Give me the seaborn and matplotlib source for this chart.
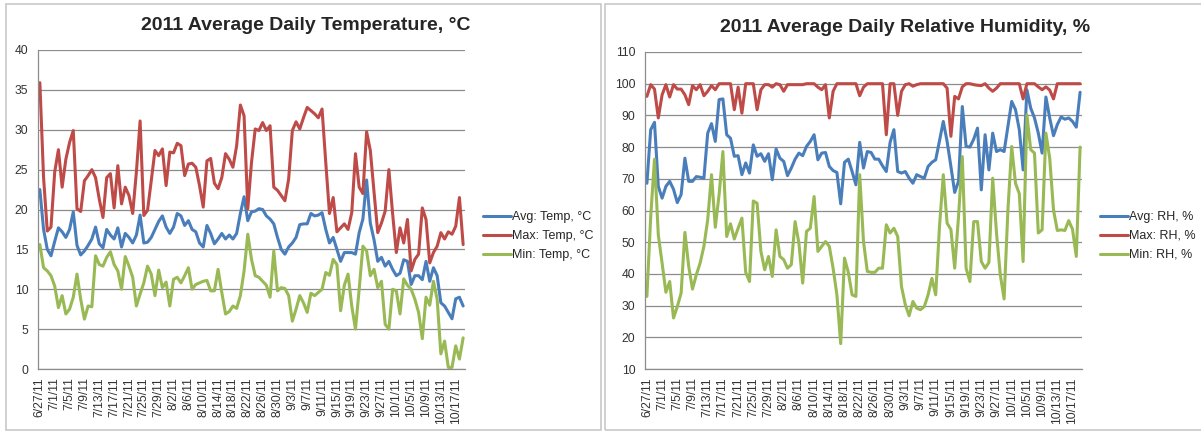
import pandas as pd
import numpy as np
import matplotlib
matplotlib.use('Agg')
import matplotlib.pyplot as plt
import matplotlib.patches as mpatches
import seaborn as sns

# daily values, 6/27/11 .. 10/19/11
dates = pd.date_range('2011-06-27', '2011-10-19', freq='D')

avg_temp = [22.5, 17.5, 15.0, 14.2, 16.0, 17.7, 17.2, 16.5, 17.5, 19.7,
            15.5, 14.3, 14.8, 15.5, 16.3, 17.8, 15.7, 15.2, 17.5, 16.8,
            16.3, 17.7, 15.3, 17.0, 16.5, 15.8, 16.8, 19.3, 15.8, 15.9,
            16.5, 17.5, 18.5, 19.2, 17.8, 17.0, 17.8, 19.5, 19.2, 18.0,
            18.6, 17.5, 17.2, 15.8, 15.3, 18.0, 17.0, 15.7, 16.3, 17.0,
            16.3, 16.8, 16.3, 17.0, 19.5, 21.6, 18.6, 19.7, 19.8, 20.1,
            20.0, 19.2, 18.8, 18.2, 16.5, 15.0, 14.4, 15.3, 15.8, 16.5,
            18.1, 18.2, 18.2, 19.5, 19.2, 19.3, 19.6, 17.5, 15.8, 16.5,
            15.0, 13.5, 14.6, 14.6, 14.6, 14.4, 17.1, 18.8, 23.7, 18.3,
            16.2, 13.5, 14.0, 12.9, 13.5, 12.5, 11.7, 12.0, 13.7, 13.5,
            10.6, 11.7, 11.7, 11.2, 13.5, 11.0, 12.7, 11.7, 8.3, 7.9,
            7.1, 6.3, 8.8, 9.0, 7.9]
max_temp = [35.9, 24.0, 17.3, 17.8, 24.7, 27.5, 22.8, 26.3, 28.4, 29.9,
            20.1, 19.75, 23.6, 24.25, 25.0, 24.0, 21.3, 19.0, 24.0, 24.5,
            20.2, 25.5, 20.7, 22.8, 21.75, 19.5, 24.7, 31.1, 19.25, 19.9,
            23.6, 27.4, 26.75, 27.6, 23.0, 27.2, 27.1, 28.3, 28.0, 24.25,
            25.7, 25.8, 25.3, 23.0, 20.3, 26.1, 26.4, 23.3, 22.6, 24.0,
            27.0, 26.3, 25.3, 28.0, 33.1, 31.75, 20.1, 25.9, 30.1, 29.9,
            30.9, 29.9, 30.5, 22.8, 22.4, 21.75, 21.1, 23.8, 29.9, 31.0,
            30.1, 31.5, 32.8, 32.4, 32.0, 31.5, 32.6, 25.9, 19.5, 21.5,
            17.2, 17.7, 18.2, 17.5, 19.6, 27.0, 22.8, 22.0, 29.75, 27.4,
            22.2, 17.1, 18.3, 19.8, 25.0, 19.5, 14.6, 17.7, 15.8, 18.75,
            12.3, 13.75, 14.4, 20.2, 18.75, 13.3, 14.6, 15.4, 17.1, 16.3,
            17.2, 16.9, 17.9, 21.5, 15.6]
min_temp = [15.6, 12.7, 12.3, 11.7, 10.4, 7.7, 9.2, 6.9, 7.5, 9.0,
            11.9, 8.75, 6.25, 7.9, 7.8, 14.2, 13.1, 12.9, 14.0, 14.7,
            13.1, 12.3, 10.0, 14.1, 12.9, 11.5, 7.9, 9.4, 10.8, 12.9,
            11.9, 9.2, 12.4, 10.2, 10.9, 7.9, 11.25, 11.5, 10.8, 11.7,
            12.7, 10.0, 10.6, 10.8, 11.0, 11.1, 9.8, 9.8, 12.5, 9.6,
            6.9, 7.2, 7.9, 7.6, 9.2, 12.3, 16.9, 13.75, 11.7, 11.5,
            11.0, 10.5, 9.0, 14.8, 9.8, 10.2, 10.1, 9.2, 6.0, 7.5,
            9.2, 8.3, 7.1, 9.5, 9.2, 9.6, 10.0, 12.1, 11.75, 13.75,
            13.1, 7.3, 10.5, 11.9, 7.9, 5.0, 10.0, 15.4, 14.8, 11.7,
            12.5, 10.2, 11.0, 5.6, 5.0, 10.0, 9.8, 6.9, 11.3, 10.5,
            10.0, 8.75, 7.1, 3.8, 9.0, 8.0, 11.0, 8.75, 1.9, 3.5,
            0.2, 0.2, 2.9, 1.25, 3.9]

avg_rh = [68.6, 85.5, 87.8, 67.6, 63.9, 67.6, 69.2, 66.7, 62.5, 65.0,
          76.5, 69.2, 69.2, 70.7, 70.5, 70.2, 84.4, 87.4, 81.8, 95.0,
          95.2, 83.9, 82.8, 77.1, 77.3, 71.3, 75.0, 71.8, 80.7, 77.1,
          77.9, 75.5, 77.9, 69.7, 79.4, 76.5, 75.5, 71.0, 73.4, 76.2,
          78.1, 77.3, 80.2, 81.8, 83.9, 76.0, 78.1, 78.3, 73.9, 72.6,
          72.0, 62.1, 75.2, 76.2, 72.3, 68.1, 81.5, 73.4, 78.6, 78.3,
          76.2, 76.2, 74.1, 72.3, 81.5, 85.5, 72.3, 71.8, 72.3, 70.2,
          68.6, 71.3, 70.7, 70.2, 73.9, 75.2, 76.0, 82.0, 88.1, 81.8,
          73.9, 65.7, 69.2, 92.8, 80.2, 80.0, 82.5, 86.0, 66.5, 83.9,
          72.8, 84.4, 78.6, 79.2, 78.6, 86.5, 94.4, 91.8, 85.5, 72.8,
          98.1, 92.3, 89.2, 84.4, 78.1, 95.8, 89.2, 83.6, 87.1, 89.5,
          88.8, 89.2, 88.1, 86.3, 97.3]
max_rh = [96.0, 99.7, 98.3, 89.2, 96.5, 99.7, 95.8, 99.7, 98.3, 98.3,
          96.5, 93.4, 99.4, 98.1, 99.7, 96.2, 97.6, 99.4, 98.1, 100,
          100, 100, 100, 91.8, 98.9, 90.7, 100, 100, 100, 91.8,
          98.1, 99.7, 99.7, 98.9, 100, 99.7, 97.6, 99.7, 99.7, 99.7,
          99.7, 99.7, 100, 100, 100, 98.9, 98.1, 99.7, 89.2, 97.6,
          100, 100, 100, 100, 100, 100, 96.2, 98.9, 100, 100,
          100, 100, 100, 83.9, 100, 100, 90.0, 97.6, 99.7, 100,
          99.2, 99.7, 100, 100, 100, 100, 100, 100, 100, 98.6,
          83.4, 96.0, 95.2, 99.0, 100, 100, 99.7, 99.5, 99.4, 100,
          98.6, 97.6, 98.6, 100, 100, 100, 100, 100, 100, 95.2,
          100, 100, 100, 99.0, 98.1, 99.0, 98.0, 95.2, 100, 100,
          100, 100, 100, 100, 100]
min_rh = [32.9, 58.0, 76.2, 52.3, 43.4, 34.2, 37.6, 26.1, 29.7, 33.9,
          53.1, 42.4, 35.2, 39.7, 43.4, 48.7, 57.1, 71.3, 54.7, 65.0,
          78.6, 51.8, 55.8, 51.0, 54.4, 57.6, 40.5, 37.6, 63.0, 62.3,
          47.1, 41.3, 45.5, 39.2, 53.9, 45.5, 44.5, 41.8, 42.9, 56.5,
          49.7, 37.1, 53.4, 54.4, 64.4, 47.1, 48.7, 50.2, 48.7, 41.8,
          33.4, 18.0, 45.0, 40.5, 33.4, 32.9, 71.3, 50.2, 40.8, 40.5,
          40.5, 41.8, 41.8, 55.5, 52.9, 54.4, 51.8, 36.0, 30.3, 26.8,
          31.3, 29.2, 28.7, 29.7, 33.4, 38.6, 33.4, 55.0, 71.3, 56.0,
          54.0, 41.8, 58.0, 77.0, 41.8, 37.6, 56.5, 56.5, 43.9, 41.8,
          43.6, 70.2, 52.9, 39.7, 32.1, 60.0, 80.2, 68.6, 65.3, 43.9,
          90.2, 79.2, 78.1, 52.9, 53.9, 84.4, 76.5, 60.2, 53.7, 53.9,
          53.7, 56.8, 54.1, 45.5, 80.0]

temp_labels = ['Avg: Temp, °C', 'Max: Temp, °C', 'Min: Temp, °C']
rh_labels = ['Avg: RH, %', 'Max: RH, %', 'Min: RH, %']
tick_labels = [f'{d.month}/{d.day}/{d.year % 100}' for d in dates[::4]]

colors = ['#4A7EBB', '#BE4B48', '#98B954']

sns.set_style('white')
plt.rcParams['font.family'] = ['Liberation Sans', 'DejaVu Sans']


def long_df(series, labels):
    frames = []
    for vals, lab in zip(series, labels):
        frames.append(pd.DataFrame({'date': dates, 'value': vals, 'series': lab}))
    return pd.concat(frames, ignore_index=True)


df_temp = long_df([avg_temp, max_temp, min_temp], temp_labels)
df_rh = long_df([avg_rh, max_rh, min_rh], rh_labels)

W, H = 1201, 432
fig = plt.figure(figsize=(W / 100, H / 100), dpi=100)

# chart area frames
for x0, x1 in [(6, 601), (605, 1210)]:
    fig.patches.append(mpatches.Rectangle((x0 / W, 2 / H), (x1 - x0) / W, (H - 6) / H,
                                          transform=fig.transFigure, fill=False,
                                          edgecolor='#c8c8c8', lw=1.2))

ax1 = fig.add_axes([38 / W, 1 - 369 / H, (465 - 38) / W, (369 - 50) / H])
ax2 = fig.add_axes([645 / W, 1 - 369 / H, (1082 - 645) / W, (369 - 52) / H])

panels = [
    (ax1, df_temp, temp_labels, (0, 40), np.arange(0, 41, 5), 483),
    (ax2, df_rh, rh_labels, (10, 110), np.arange(10, 111, 10), 1100),
]

half = pd.Timedelta(hours=12)
for ax, df, labels, ylim, yticks, leg_x in panels:
    sns.lineplot(data=df, x='date', y='value', hue='series', hue_order=labels,
                 palette=colors, linewidth=2.2, ax=ax, legend=False, sort=False)
    ax.set_xlim(dates[0] - half, dates[-1] + half)
    ax.set_ylim(*ylim)
    ax.set_yticks(yticks)
    ax.yaxis.grid(True, color='#8c8c8c', lw=0.9)
    ax.set_axisbelow(True)
    for s in ['top', 'right']:
        ax.spines[s].set_visible(False)
    for s in ['left', 'bottom']:
        ax.spines[s].set_color('#8c8c8c')
        ax.spines[s].set_linewidth(0.9)
    ax.set_xlabel('')
    ax.set_ylabel('')
    ax.set_xticks(dates[::4])
    ax.set_xticklabels(tick_labels, rotation=90)
    ax.set_xticks(list(dates[::4] - half) + [dates[-1] + half], minor=True)
    ax.tick_params(axis='x', which='major', length=0, pad=6, labelsize=8.7,
                   labelcolor='#333333')
    ax.tick_params(axis='x', which='minor', length=4, color='#8c8c8c', width=0.9)
    ax.tick_params(axis='y', length=4, color='#8c8c8c', width=0.9, pad=3,
                   labelsize=8.7, labelcolor='#333333')
    handles = [plt.Line2D([], [], color=c, lw=2.2) for c in colors]
    ax.legend(handles, labels, loc='center left',
              bbox_to_anchor=(leg_x / W, 1 - 236 / H), bbox_transform=fig.transFigure,
              frameon=False, fontsize=9, handlelength=2.2, handletextpad=0.1,
              labelspacing=0.55, borderpad=0, borderaxespad=0)

fig.text(306 / W, 1 - 26 / H, '2011 Average Daily Temperature, °C', ha='center',
         va='center', fontsize=14, fontweight='bold')
fig.text(905 / W, 1 - 27 / H, '2011 Average Daily Relative Humidity, %', ha='center',
         va='center', fontsize=14, fontweight='bold')

fig.savefig('out.png', dpi=100)
